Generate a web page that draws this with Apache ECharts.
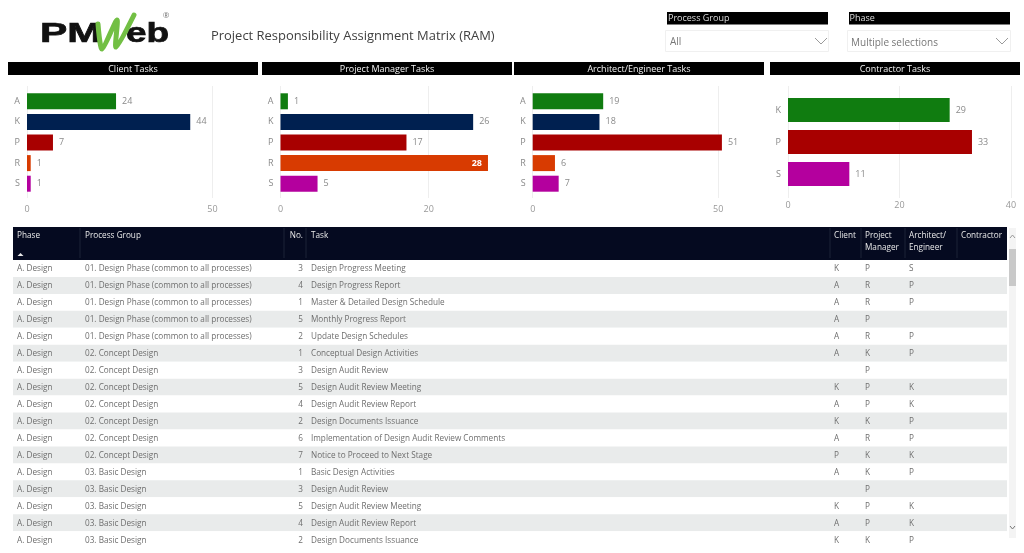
<!DOCTYPE html>
<html>
<head>
<meta charset="utf-8">
<title>Project Responsibility Assignment Matrix (RAM)</title>
<style>
  html, body { margin: 0; padding: 0; background: #fff; }
  #main { width: 1024px; height: 553px; }
</style>
<script src="https://cdn.jsdelivr.net/npm/echarts@6/dist/echarts.min.js"></script>
</head>
<body>
<div id="main"></div>
<script>
// bar chart data
var clientCats = ['A', 'K', 'P', 'R', 'S'];
var clientVals = [24, 44, 7, 1, 1];
var managerCats = ['A', 'K', 'P', 'R', 'S'];
var managerVals = [1, 26, 17, 28, 5];
var engineerCats = ['A', 'K', 'P', 'R', 'S'];
var engineerVals = [19, 18, 51, 6, 7];
var contractorCats = ['K', 'P', 'S'];
var contractorVals = [29, 33, 11];

// table data
var tableHeads = ['Phase', 'Process Group', 'No.', 'Task', 'Client', 'Project\nManager', 'Architect/\nEngineer', 'Contractor'];
var phases = ['A. Design', 'A. Design', 'A. Design', 'A. Design', 'A. Design', 'A. Design', 'A. Design', 'A. Design', 'A. Design',
  'A. Design', 'A. Design', 'A. Design', 'A. Design', 'A. Design', 'A. Design', 'A. Design', 'A. Design'];
var groups = ['01. Design Phase (common to all processes)', '01. Design Phase (common to all processes)',
  '01. Design Phase (common to all processes)', '01. Design Phase (common to all processes)',
  '01. Design Phase (common to all processes)', '02. Concept Design', '02. Concept Design', '02. Concept Design',
  '02. Concept Design', '02. Concept Design', '02. Concept Design', '02. Concept Design', '03. Basic Design',
  '03. Basic Design', '03. Basic Design', '03. Basic Design', '03. Basic Design'];
var numbers = [3, 4, 1, 5, 2, 1, 3, 5, 4, 2, 6, 7, 1, 3, 5, 4, 2];
var tasks = ['Design Progress Meeting', 'Design Progress Report', 'Master & Detailed Design Schedule', 'Monthly Progress Report',
  'Update Design Schedules', 'Conceptual Design Activities', 'Design Audit Review', 'Design Audit Review Meeting',
  'Design Audit Review Report', 'Design Documents Issuance', 'Implementation of Design Audit Review Comments',
  'Notice to Proceed to Next Stage', 'Basic Design Activities', 'Design Audit Review', 'Design Audit Review Meeting',
  'Design Audit Review Report', 'Design Documents Issuance'];
var clientRoles = ['K', 'A', 'A', 'A', 'A', 'A', '', 'K', 'A', 'K', 'A', 'P', 'A', '', 'K', 'A', 'K'];
var managerRoles = ['P', 'R', 'R', 'P', 'R', 'K', 'P', 'P', 'P', 'K', 'R', 'K', 'K', 'P', 'P', 'P', 'K'];
var engineerRoles = ['S', 'P', 'P', '', 'P', 'P', '', 'K', 'K', 'P', 'P', 'K', 'P', '', 'K', 'K', 'P'];
var contractorRoles = ['', '', '', '', '', '', '', '', '', '', '', '', '', '', '', '', ''];

var FONT = '"Open Sans", "Noto Sans", sans-serif';
var GREEN = '#107c10', NAVY = '#002050', RED = '#a80000', ORANGE = '#d83b01', MAGENTA = '#b4009e';

// one entry per small chart
var panels = [
  { title: 'Client Tasks', cats: clientCats, vals: clientVals, colors: [GREEN, NAVY, RED, ORANGE, MAGENTA],
    bar: [8, 250], left: 27, scale: 3.71, max: 50, interval: 50, top: 91, height: 103, barWidth: 16 },
  { title: 'Project Manager Tasks', cats: managerCats, vals: managerVals, colors: [GREEN, NAVY, RED, ORANGE, MAGENTA],
    bar: [262, 250], left: 280.5, scale: 7.41, max: 30, interval: 20, top: 91, height: 103, barWidth: 16 },
  { title: 'Architect/Engineer Tasks', cats: engineerCats, vals: engineerVals, colors: [GREEN, NAVY, RED, ORANGE, MAGENTA],
    bar: [514, 250], left: 532.7, scale: 3.71, max: 55, interval: 50, top: 91, height: 103, barWidth: 16 },
  { title: 'Contractor Tasks', cats: contractorCats, vals: contractorVals, colors: [GREEN, RED, MAGENTA],
    bar: [770, 250], left: 788, scale: 5.575, max: 40, interval: 20, top: 94, height: 96, barWidth: 24 }
];

var grids = [], xAxes = [], yAxes = [], series = [], graphics = [];

function addRect(x, y, w, h, fill, stroke) {
  graphics.push({ type: 'rect', silent: true, shape: { x: x, y: y, width: w, height: h },
    style: { fill: fill, stroke: stroke || null, lineWidth: 1 } });
}
function addText(text, x, y, color, size, align, extra) {
  graphics.push(Object.assign({ type: 'text', silent: true, x: x, y: y,
    style: { text: text, fill: color, font: size + 'px ' + FONT, textAlign: align || 'left', textVerticalAlign: 'middle' } }, extra || {}));
}
function addChevron(cx, cy) {
  graphics.push({ type: 'polyline', silent: true, shape: { points: [[cx - 6, cy - 3], [cx, cy + 3], [cx + 6, cy - 3]] },
    style: { stroke: '#9a9a9a', fill: null, lineWidth: 1 } });
}

panels.forEach(function (p, i) {
  addRect(p.bar[0], 62, p.bar[1], 13, '#000');
  addText(p.title, p.bar[0] + p.bar[1] / 2, 69, '#f2f2f2', 9, 'center');

  grids.push({ left: p.left, top: p.top, width: p.max * p.scale, height: p.height });
  xAxes.push({
    type: 'value', gridIndex: i, min: 0, max: p.max, interval: p.interval,
    axisLine: { show: false }, axisTick: { show: false },
    axisLabel: { color: '#999', fontSize: 9, fontFamily: FONT, margin: 11, showMaxLabel: p.max % p.interval === 0 },
    splitLine: { show: false }
  });
  yAxes.push({
    type: 'category', gridIndex: i, inverse: true, data: p.cats,
    axisLine: { show: false }, axisTick: { show: false },
    axisLabel: { color: '#8a8a8a', fontSize: 9, fontFamily: FONT, margin: 7 }
  });
  series.push({
    type: 'bar', xAxisIndex: i, yAxisIndex: i, barWidth: p.barWidth, silent: true,
    data: p.vals.map(function (v, k) {
      var item = { value: v, itemStyle: { color: p.colors[k] } };
      // the longest manager bar has its label inside, in white
      if (p.vals === managerVals && v === 28) {
        item.label = { position: 'insideRight', color: '#fff', fontWeight: 'bold', distance: 6 };
      }
      return item;
    }),
    label: { show: true, position: 'right', distance: 6, color: '#8a8a8a', fontSize: 9, fontFamily: FONT }
  });
});

// table, columns are in pixels from the left edge of the table grid
var TABLE_LEFT = 13, TABLE_TOP = 260, TABLE_W = 994, ROW_H = 16.95, CELL_FONT = '8.2px ' + FONT;
var colText = [4, 72, 290, 298, 821, 852, 896, 948];
var colSeps = [67, 271, 293, 817, 848, 892, 944];
var rowColumns = [phases, groups, numbers, tasks, clientRoles, managerRoles, engineerRoles, contractorRoles];

grids.push({ left: TABLE_LEFT, top: TABLE_TOP, width: TABLE_W, height: ROW_H * phases.length });
xAxes.push({ type: 'value', gridIndex: 4, min: 0, max: TABLE_W, show: false });
yAxes.push({ type: 'category', gridIndex: 4, inverse: true, show: false, data: phases.map(function (d, i) { return i; }) });
series.push({
  type: 'custom', xAxisIndex: 4, yAxisIndex: 4, silent: true, clip: false,
  data: phases.map(function (d, i) { return [0, i]; }),
  encode: { x: 0, y: 1 },
  renderItem: function (params, api) {
    var r = api.value(1);
    var c0 = api.coord([0, r]);
    var h = api.size([0, 1])[1];
    var kids = [{
      type: 'rect',
      shape: { x: c0[0], y: c0[1] - h / 2, width: TABLE_W, height: h },
      style: { fill: r % 2 ? '#e9ebeb' : '#ffffff' }
    }];
    rowColumns.forEach(function (col, c) {
      if (col[r] === '') return;
      kids.push({
        type: 'text',
        style: {
          text: String(col[r]), x: api.coord([colText[c], r])[0], y: c0[1] + 0.6,
          fill: '#6e6e6e', font: CELL_FONT, align: c === 2 ? 'right' : 'left', verticalAlign: 'middle'
        }
      });
    });
    return { type: 'group', children: kids };
  }
});

// gridlines run a little past the bars, so they get their own taller grids behind the charts
panels.forEach(function (p, i) {
  grids.push({ left: p.left, top: 86, width: p.max * p.scale, height: 112 });
  xAxes.push({
    type: 'value', gridIndex: 5 + i, min: 0, max: p.max, interval: p.interval,
    axisLine: { show: false }, axisTick: { show: false }, axisLabel: { show: false },
    splitLine: { lineStyle: { color: '#eeeeee' }, showMaxLine: p.max % p.interval === 0 }
  });
  yAxes.push({ type: 'value', gridIndex: 5 + i, min: 0, max: 1, show: false });
});

// table header
addRect(TABLE_LEFT, 227, TABLE_W, 33, '#050a20');
colSeps.forEach(function (x) {
  graphics.push({ type: 'line', silent: true, shape: { x1: TABLE_LEFT + x, y1: 228, x2: TABLE_LEFT + x, y2: 258 },
    style: { stroke: '#1d2236', lineWidth: 1 } });
});
tableHeads.forEach(function (h, c) {
  graphics.push({ type: 'text', silent: true, x: TABLE_LEFT + colText[c], y: 230,
    style: { text: h, fill: '#e8e8e8', font: CELL_FONT, lineHeight: 12, textAlign: c === 2 ? 'right' : 'left', textVerticalAlign: 'top' } });
});
graphics.push({ type: 'polygon', silent: true, shape: { points: [[17.5, 256], [20.5, 253], [23.5, 256]] }, style: { fill: '#e8e8e8' } });

// scrollbar
addRect(1009, 228, 7, 310, '#f4f4f4');
addRect(1009, 249, 7, 37, '#c9c9c9');
graphics.push({ type: 'polyline', silent: true, shape: { points: [[1010, 238], [1012.5, 235], [1015, 238]] }, style: { stroke: '#999', fill: null, lineWidth: 1 } });
graphics.push({ type: 'polyline', silent: true, shape: { points: [[1010, 526], [1012.5, 529], [1015, 526]] }, style: { stroke: '#777', fill: null, lineWidth: 1 } });

// slicers
addRect(667, 12, 161, 12.5, '#000');
addText('Process Group', 668, 18.5, '#dcdcdc', 9, 'left');
addRect(849, 12, 161, 12.5, '#000');
addText('Phase', 849.5, 18.5, '#dcdcdc', 9, 'left');
addRect(665.5, 30.5, 163, 21, '#fff', '#f0f0f0');
addText('All', 670, 42.5, '#777', 10, 'left');
addChevron(821, 41);
addRect(847.5, 30.5, 163, 21, '#fff', '#f0f0f0');
addText('Multiple selections', 851, 43, '#777', 10, 'left');
addChevron(1002, 41);

// page title and logo
addText('Project Responsibility Assignment Matrix (RAM)', 211, 36.5, '#404040', 12.95, 'left');
graphics.push({ type: 'text', silent: true, x: 40, y: 34, scaleX: 1.46, style: { text: 'PM', fill: '#111', stroke: '#111', lineWidth: 0.7,
  font: 'bold 28px "Liberation Sans", sans-serif', textVerticalAlign: 'middle' } });
graphics.push({ type: 'text', silent: true, x: 126, y: 34, scaleX: 1.32, style: { text: 'eb', fill: '#111', stroke: '#111', lineWidth: 0.7,
  font: 'bold 28px "Liberation Sans", sans-serif', textVerticalAlign: 'middle' } });
graphics.push({ type: 'polyline', silent: true, shape: { smooth: 0.25, points: [[98, 24], [102, 49], [117, 20], [116, 47], [134, 15]] },
  style: { stroke: '#72bf44', fill: null, lineWidth: 5, lineCap: 'round', lineJoin: 'round' } });
addText('®', 166, 16, '#777', 8, 'center');

var myChart = echarts.init(document.getElementById('main'));
var option = {
  animation: false,
  backgroundColor: '#fff',
  textStyle: { fontFamily: FONT },
  grid: grids,
  xAxis: xAxes,
  yAxis: yAxes,
  series: series,
  graphic: graphics
};
option && myChart.setOption(option);
</script>
</body>
</html>
